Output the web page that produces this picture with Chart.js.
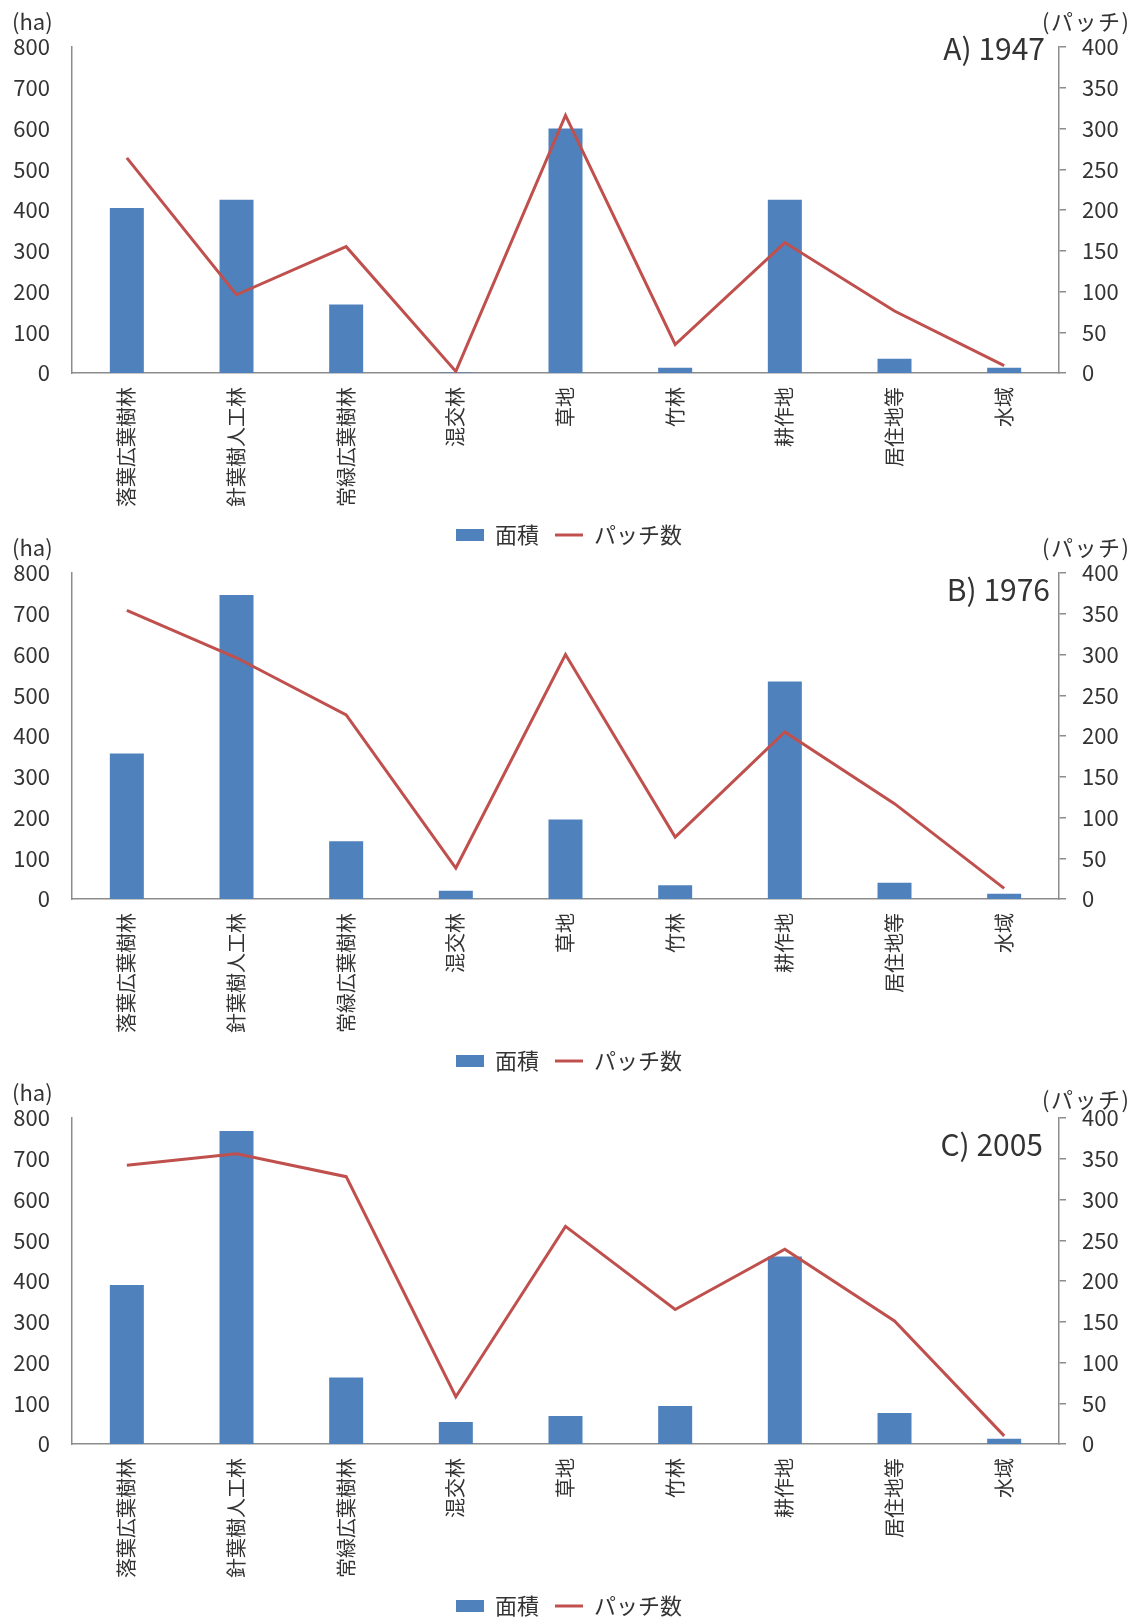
<!DOCTYPE html>
<html>
<head>
<meta charset="utf-8">
<script src="https://cdn.jsdelivr.net/npm/chart.js@4.4.1/dist/chart.umd.min.js"></script>
<style>
  html, body { margin: 0; padding: 0; background: #fff; overflow: hidden; }
  .panel { position: absolute; left: 0; width: 1138px; height: 556px; }
</style>
</head>
<body>
<div class="panel" style="top:0px"><canvas id="chartA" width="1138" height="556"></canvas></div>
<div class="panel" style="top:526px"><canvas id="chartB" width="1138" height="556"></canvas></div>
<div class="panel" style="top:1071px"><canvas id="chartC" width="1138" height="556"></canvas></div>
<script>
const categories = ["落葉広葉樹林", "針葉樹人工林", "常緑広葉樹林", "混交林", "草地", "竹林", "耕作地", "居住地等", "水域"];

// 面積 (ha)
const area1947 = [405, 425, 168, 1, 600, 13, 425, 35, 13];
const area1976 = [357, 746, 142, 20, 195, 34, 534, 40, 13];
const area2005 = [390, 768, 163, 54, 69, 93, 460, 76, 13];

// パッチ数
const patch1947 = [264, 96, 155, 2, 316, 35, 160, 76, 9];
const patch1976 = [354, 296, 226, 38, 300, 76, 205, 117, 13];
const patch2005 = [342, 356, 328, 58, 267, 165, 239, 151, 10];

const FONT = "'Noto Sans CJK JP', 'Noto Sans', sans-serif";
const TEXT = "#333333";
const AXIS = "#8c8c8c";

// corner labels and panel title
function cornerText(title, titleX, titleY, patchY) {
  return {
    id: "cornerText",
    afterDraw(chart) {
      const c = chart.ctx;
      c.save();
      c.fillStyle = TEXT;
      c.textBaseline = "middle";
      c.font = "22px " + FONT;
      c.textAlign = "left";
      c.fillText("(ha)", 12, 22);
      c.letterSpacing = "1.5px";
      c.fillText("(パッチ)", 1042, patchY);
      c.letterSpacing = "0px";
      c.font = "30px " + FONT;
      c.textAlign = "right";
      c.fillText(title, titleX, titleY);
      c.restore();
    }
  };
}

function makeChart(id, area, patch, title, titleX, titleY, patchY) {
  const ctx = document.getElementById(id).getContext("2d");
  return new Chart(ctx, {
    type: "bar",
    data: {
      labels: categories,
      datasets: [
        {
          type: "bar",
          label: "面積",
          data: area,
          backgroundColor: "#4F81BD",
          borderWidth: 0,
          categoryPercentage: 1,
          barPercentage: 0.31,
          pointStyle: "rect",
          yAxisID: "y",
          order: 1
        },
        {
          type: "line",
          label: "パッチ数",
          data: patch,
          borderColor: "#C0504D",
          backgroundColor: "#C0504D",
          borderWidth: 3,
          pointRadius: 0,
          tension: 0,
          pointStyle: "line",
          yAxisID: "y1",
          order: 0
        }
      ]
    },
    options: {
      responsive: false,
      animation: false,
      layout: { padding: { top: 47, left: 0, right: 0, bottom: 0 } },
      plugins: {
        tooltip: { enabled: false },
        legend: {
          position: "bottom",
          labels: {
            usePointStyle: true,
            pointStyleWidth: 28,
            boxHeight: 12,
            padding: 16,
            color: TEXT,
            font: { family: FONT, size: 22 },
            sort: (a, b) => a.datasetIndex - b.datasetIndex
          }
        }
      },
      scales: {
        x: {
          grid: { display: false, drawTicks: false },
          border: { display: true, color: AXIS, width: 1.5 },
          ticks: {
            autoSkip: false,
            minRotation: 90,
            maxRotation: 90,
            padding: 14,
            color: TEXT,
            font: { family: FONT, size: 20 }
          },
          afterFit: s => { s.height = 135; }
        },
        y: {
          position: "left",
          min: 0,
          max: 800,
          grid: { display: false, drawTicks: false, tickLength: 0 },
          border: { display: true, color: AXIS, width: 1.5 },
          ticks: {
            stepSize: 100,
            padding: 22,
            color: TEXT,
            font: { family: FONT, size: 22 }
          },
          afterFit: s => { s.width = 72; }
        },
        y1: {
          position: "right",
          min: 0,
          max: 400,
          grid: { display: true, drawOnChartArea: false, drawTicks: true, tickLength: 7, color: AXIS, lineWidth: 1.5 },
          border: { display: true, color: AXIS, width: 1.5 },
          ticks: {
            stepSize: 50,
            padding: 16,
            color: TEXT,
            font: { family: FONT, size: 22 }
          },
          afterFit: s => { s.width = 79; }
        }
      }
    },
    plugins: [cornerText(title, titleX, titleY, patchY)]
  });
}

makeChart("chartA", area1947, patch1947, "A) 1947", 1045, 49, 22);
makeChart("chartB", area1976, patch1976, "B) 1976", 1050, 64, 22);
makeChart("chartC", area2005, patch2005, "C) 2005", 1043, 74, 29);
</script>
</body>
</html>
